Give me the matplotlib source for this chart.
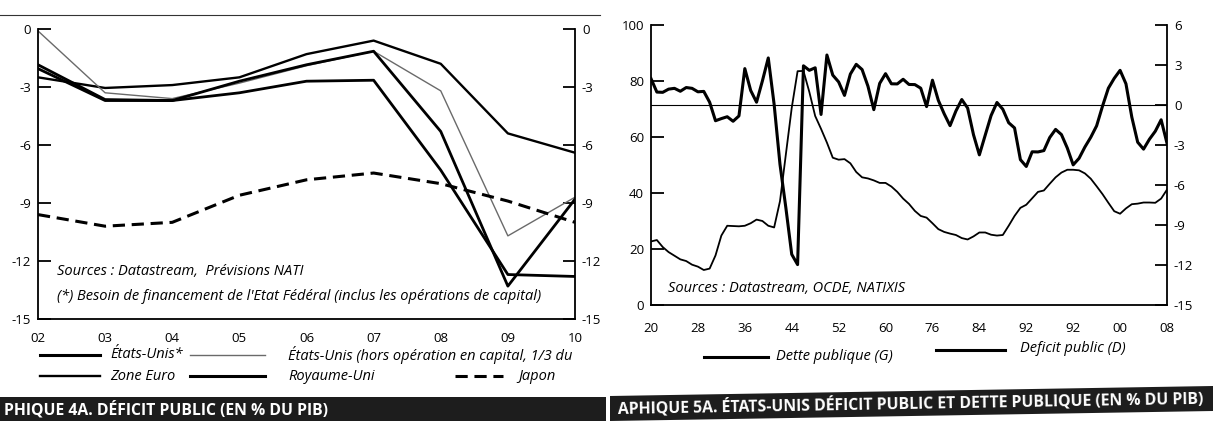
import matplotlib
matplotlib.use("Agg")
import matplotlib.pyplot as plt
from matplotlib.patches import Rectangle, Polygon

plt.rcParams['font.family'] = ['Open Sans', 'DejaVu Sans']
plt.rcParams['font.size'] = 9.5

# --- Graphique 4A : deficit public (% du PIB) ---
years_4a = [2002, 2003, 2004, 2005, 2006, 2007, 2008, 2009, 2010]
labels_4a = ['02', '03', '04', '05', '06', '07', '08', '09', '10']
etats_unis = [-1.85, -3.65, -3.7, -2.7, -1.85, -1.15, -5.3, -13.3, -8.8]
etats_unis_hors = [-0.1, -3.3, -3.6, -2.8, -1.9, -1.15, -3.2, -10.7, -8.7]
zone_euro = [-2.5, -3.05, -2.9, -2.5, -1.3, -0.6, -1.8, -5.4, -6.4]
royaume_uni = [-2.05, -3.7, -3.7, -3.3, -2.7, -2.65, -7.3, -12.7, -12.8]
japon = [-9.6, -10.2, -10.0, -8.6, -7.8, -7.45, -8.0, -8.9, -10.0]
yticks_4a = [0, -3, -6, -9, -12, -15]

# --- Graphique 5A : Etats-Unis deficit et dette publique ---
years_5a = list(range(1920, 2009))
dette = [22.7, 23.2, 20.7, 18.9, 17.6, 16.3, 15.7, 14.4, 13.7, 12.5,
         13.0, 17.7, 24.8, 28.3, 28.2, 28.1, 28.3, 29.2, 30.5, 30.0,
         28.3, 27.7, 37.1, 53.8, 70.4, 83.5, 83.6, 76.1, 67.5, 62.9,
         58.0, 52.6, 51.9, 52.1, 50.6, 47.5, 45.6, 45.2, 44.5, 43.6,
         43.6, 42.3, 40.4, 38.0, 36.1, 33.6, 31.8, 31.2, 29.2, 27.1,
         26.1, 25.5, 25.0, 23.9, 23.4, 24.5, 25.9, 25.9, 25.1, 24.8,
         25.0, 28.3, 31.8, 34.7, 35.8, 38.1, 40.4, 40.9, 43.3, 45.6,
         47.3, 48.3, 48.3, 48.1, 47.0, 45.1, 42.4, 39.6, 36.5, 33.5,
         32.6, 34.5, 36.0, 36.2, 36.6, 36.6, 36.5, 38.0, 41.2]
deficit = [1.98, 0.97, 0.95, 1.19, 1.25, 1.03, 1.31, 1.25, 0.99, 1.02,
           0.21, -1.18, -1.02, -0.88, -1.22, -0.82, 2.73, 1.09, 0.21, 1.81,
           3.53, 0.04, -4.46, -7.71, -11.2, -11.97, 2.94, 2.6, 2.79, -0.71,
           3.75, 2.24, 1.73, 0.72, 2.32, 3.05, 2.66, 1.41, -0.35, 1.62,
           2.35, 1.59, 1.58, 1.93, 1.54, 1.53, 1.26, -0.12, 1.86, 0.35,
           -0.66, -1.55, -0.45, 0.41, -0.23, -2.23, -3.74, -2.26, -0.79, 0.19,
           -0.32, -1.33, -1.72, -4.10, -4.61, -3.51, -3.52, -3.42, -2.44, -1.83,
           -2.22, -3.23, -4.49, -4.0, -3.15, -2.42, -1.56, -0.09, 1.26, 2.0,
           2.60, 1.59, -0.91, -2.79, -3.31, -2.57, -1.97, -1.11, -2.87]
xticks_5a = [1920, 1928, 1936, 1944, 1952, 1960, 1968, 1976, 1984, 1992, 2000, 2008]
labels_5a = ['20', '28', '36', '44', '52', '60', '76', '84', '92', '92', '00', '08']
yticks_dette = [0, 20, 40, 60, 80, 100]
yticks_deficit = [6, 3, 0, -3, -6, -9, -12, -15]

W, H = 1213, 430
ITAL = 10.5


def box(x0, y0, x1, y1):
    return [x0 / W, 1 - y1 / H, (x1 - x0) / W, (y1 - y0) / H]


fig = plt.figure(figsize=(W / 100, H / 100), dpi=100)

# left chart
ax = fig.add_axes(box(38, 29, 575, 319))
ax.plot(years_4a, zone_euro, color='black', lw=1.7)
ax.plot(years_4a, royaume_uni, color='black', lw=2.0)
ax.plot(years_4a, etats_unis_hors, color='#6a6a6a', lw=1.0)
ax.plot(years_4a, etats_unis, color='black', lw=2.0)
ax.plot(years_4a, japon, color='black', lw=2.2, dashes=(4, 2.2))
ax.set_xlim(2002, 2010)
ax.set_ylim(-15, 0)
ax.spines['top'].set_visible(False)
for s in ['left', 'right', 'bottom']:
    ax.spines[s].set_linewidth(1.3)
ax.set_xticks(years_4a)
ax.set_xticklabels(labels_4a)
ax.set_yticks(yticks_4a)
ax.set_yticklabels([str(v) for v in yticks_4a])
ax.tick_params(axis='x', length=0, pad=9)
ax.tick_params(axis='y', direction='in', left=True, right=True,
               labelleft=True, labelright=True, length=9, width=1.3, pad=5)
ax.text(0.035, 0.165, "Sources : Datastream,  Prévisions NATI", transform=ax.transAxes,
        style='italic', fontsize=ITAL, va='center')
ax.text(0.035, 0.078, "(*) Besoin de financement de l'Etat Fédéral (inclus les opérations de capital)",
        transform=ax.transAxes, style='italic', fontsize=ITAL, va='center')

# right chart
ax2 = fig.add_axes(box(651, 25, 1167, 305))
ax3 = ax2.twinx()
ax2.plot(years_5a, dette, color='black', lw=1.3)
ax3.plot(years_5a, deficit, color='black', lw=2.2)
ax3.axhline(0, color='black', lw=0.8)
ax2.set_xlim(1920, 2008)
ax2.set_ylim(0, 100)
ax3.set_ylim(-15, 6)
ax2.spines['top'].set_visible(False)
ax2.spines['right'].set_visible(False)
for s in ['top', 'left', 'bottom']:
    ax3.spines[s].set_visible(False)
ax2.spines['left'].set_linewidth(1.3)
ax2.spines['bottom'].set_linewidth(1.3)
ax3.spines['right'].set_linewidth(1.3)
ax2.set_xticks(xticks_5a)
ax2.set_xticklabels(labels_5a)
ax2.set_yticks(yticks_dette)
ax2.set_yticklabels([str(v) for v in yticks_dette])
ax3.set_yticks(yticks_deficit)
ax3.set_yticklabels([str(v) for v in yticks_deficit])
ax2.tick_params(axis='x', length=0, pad=12)
ax2.tick_params(axis='y', direction='in', length=9, width=1.3, pad=5)
ax3.tick_params(axis='y', direction='in', length=9, width=1.3, pad=5)
ax2.text(0.033, 0.06, "Sources : Datastream, OCDE, NATIXIS", transform=ax2.transAxes,
         style='italic', fontsize=ITAL, va='center')

# overlay for legends and banners (pixel coordinates)
ov = fig.add_axes([0, 0, 1, 1])
ov.set_xlim(0, W)
ov.set_ylim(H, 0)
ov.axis('off')

ov.plot([0, 600], [15, 15], color='#333333', lw=0.8)

ov.plot([40, 100], [355, 355], color='black', lw=2.2)
ov.text(110, 355, "États-Unis*", style='italic', fontsize=ITAL, va='center')
ov.plot([190, 265], [355, 355], color='#6a6a6a', lw=1.0)
t = ov.text(288, 355, "États-Unis (hors opération en capital, 1/3 du", style='italic',
            fontsize=ITAL, va='center')
t.set_clip_path(Rectangle((0, 0), 606, H, transform=ov.transData))
ov.plot([40, 100], [376, 376], color='black', lw=1.7)
ov.text(110, 376, "Zone Euro", style='italic', fontsize=ITAL, va='center')
ov.plot([190, 265], [376, 376], color='black', lw=2.2)
ov.text(288, 376, "Royaume-Uni", style='italic', fontsize=ITAL, va='center')
ov.plot([455, 503], [376, 376], color='black', lw=2.2, dashes=(4, 2.2))
ov.text(518, 376, "Japon", style='italic', fontsize=ITAL, va='center')

ov.plot([704, 768], [357, 357], color='black', lw=2.2)
ov.text(776, 356, "Dette publique (G)", style='italic', fontsize=ITAL, va='center')
ov.plot([936, 1005], [350, 350], color='black', lw=2.2)
ov.text(1020, 349, "Deficit public (D)", style='italic', fontsize=ITAL, va='center')

ov.add_patch(Rectangle((0, 397), 606, 24, color='#1d1d1d', lw=0))
ov.text(4, 409.5, "PHIQUE 4A. DÉFICIT PUBLIC (EN % DU PIB)", color='white',
        fontweight='bold', fontsize=11.3, va='center')
ov.add_patch(Polygon([(610, 396), (1213, 386), (1213, 411), (610, 421)],
                     closed=True, color='#1d1d1d', lw=0))
ov.text(618, 409, "APHIQUE 5A. ÉTATS-UNIS DÉFICIT PUBLIC ET DETTE PUBLIQUE (EN % DU PIB)",
        color='white', fontweight='bold', fontsize=11.3, va='center', rotation=1,
        rotation_mode='anchor')

fig.savefig('out.png', dpi=100)
